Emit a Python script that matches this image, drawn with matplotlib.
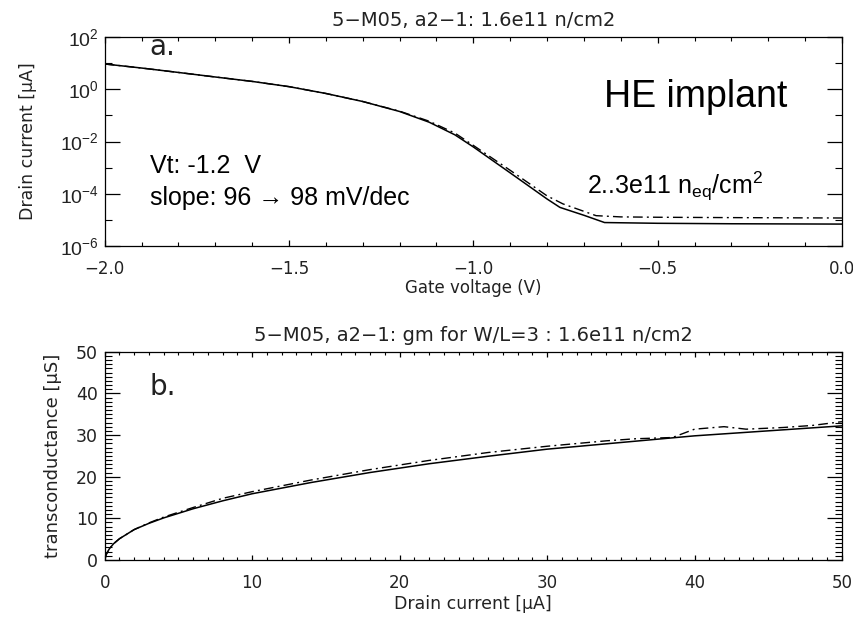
import numpy as np
import matplotlib
matplotlib.use("Agg")
import matplotlib.pyplot as plt
from matplotlib.ticker import FixedLocator, FixedFormatter, MultipleLocator, NullFormatter

plt.rcParams['font.family'] = ['DejaVu Sans']
plt.rcParams['mathtext.fontset'] = 'custom'
plt.rcParams['mathtext.rm'] = 'Liberation Sans'
plt.rcParams['mathtext.it'] = 'Liberation Sans:italic'

# panel a: Id(Vg), before (solid) and after irradiation (dash-dot)
vg_a = [-2.0, -1.9, -1.8, -1.7, -1.6, -1.5, -1.4, -1.3, -1.2, -1.12, -1.05,
        -1.0, -0.9, -0.8, -0.765, -0.7, -0.644, -0.5, -0.3, 0.0]
id_pre = [9.3, 6.5, 4.4, 2.95, 2.0, 1.26, 0.69, 0.34, 0.141, 0.055, 0.018,
          0.0062, 6.3e-4, 6.3e-5, 3.0e-5, 1.5e-5, 7.9e-6, 7.4e-6, 7.1e-6, 6.9e-6]
vg_b = [-2.0, -1.9, -1.8, -1.7, -1.6, -1.5, -1.4, -1.3, -1.2, -1.12, -1.05,
        -1.0, -0.9, -0.8, -0.757, -0.667, -0.6, -0.5, -0.3, 0.0]
id_post = [9.3, 6.5, 4.4, 2.95, 2.0, 1.26, 0.69, 0.34, 0.145, 0.06, 0.021,
           0.0071, 7.9e-4, 8.3e-5, 4.1e-5, 1.45e-5, 1.3e-5, 1.26e-5, 1.22e-5, 1.18e-5]

# panel b: gm(Id)
id_gm1 = [0, 0.1, 0.3, 0.6, 1, 2, 3, 4, 6, 8, 10, 14, 18, 22, 26, 30, 35, 40, 45, 50]
gm_pre = [0, 1.3, 2.6, 3.9, 5.1, 7.3, 8.8, 10.1, 12.3, 14.2, 15.9, 18.6, 21.0,
          23.1, 24.9, 26.6, 28.2, 29.8, 31.0, 32.2]
id_gm2 = [0, 0.1, 0.3, 0.6, 1, 2, 3, 4, 6, 8, 10, 14, 18, 22, 26, 30, 34, 36,
          38.5, 40, 42, 43.5, 46, 48, 50]
gm_post = [0, 1.3, 2.6, 3.9, 5.1, 7.3, 8.9, 10.3, 12.6, 14.8, 16.4, 19.2, 21.7,
           23.9, 25.8, 27.3, 28.6, 29.1, 29.4, 31.4, 32.0, 31.4, 31.8, 32.3, 33.2]

log_ticks = [1e-6, 1e-4, 1e-2, 1e0, 1e2]
log_labels = [r'$10^{-6}$', r'$10^{-4}$', r'$10^{-2}$', r'$10^{0}$', r'$10^{2}$']
log_minor = [1e-5, 1e-3, 1e-1, 1e1]

txt = '#222222'
dashdot = (0, (7, 3, 1.4, 3))
arial = ['Liberation Sans', 'DejaVu Sans']

fig = plt.figure(figsize=(8.54, 6.17), dpi=100)
ax1 = fig.add_axes([0.1226, 0.6013, 0.8633, 0.3387])
ax2 = fig.add_axes([0.1226, 0.0924, 0.8633, 0.3376])

# ---- top panel
ax1.plot(vg_a, id_pre, color='black', lw=1.1)
ax1.plot(vg_b, id_post, color='black', lw=1.0, linestyle=dashdot)
ax1.set_yscale('log')
ax1.set_xlim(-2.0, 0.0)
ax1.set_ylim(1e-6, 1e2)
ax1.xaxis.set_major_locator(MultipleLocator(0.5))
ax1.xaxis.set_minor_locator(MultipleLocator(0.1))
ax1.yaxis.set_major_locator(FixedLocator(log_ticks))
ax1.yaxis.set_major_formatter(FixedFormatter(log_labels))
ax1.yaxis.set_minor_locator(FixedLocator(log_minor))
ax1.yaxis.set_minor_formatter(NullFormatter())
ax1.tick_params(axis='x', which='major', direction='in', length=4.3, width=0.9,
                top=True, labelsize=12, pad=10, labelcolor=txt)
ax1.tick_params(axis='x', which='minor', direction='in', length=3, width=0.8, top=True)
ax1.tick_params(axis='y', which='major', direction='in', length=10.8, width=0.9,
                right=True, labelsize=14, pad=4, labelcolor=txt)
ax1.tick_params(axis='y', which='minor', direction='in', length=5, width=0.8, right=True)
ax1.set_title('5−M05, a2−1: 1.6e11 n/cm2', fontsize=14, color=txt, pad=8)
ax1.set_xlabel('Gate voltage (V)', fontsize=12, color=txt)
ax1.set_ylabel('Drain current [μA]', fontsize=12.5, color=txt)
ax1.xaxis.set_label_coords(0.5, -0.16)
ax1.yaxis.set_label_coords(-0.092, 0.5)

ax1.text(0.06, 0.914, 'a.', transform=ax1.transAxes, fontsize=20, color=txt,
         va='baseline')
ax1.text(0.677, 0.667, 'HE implant', transform=ax1.transAxes, fontsize=27,
         family=arial, va='baseline')
ax1.text(0.0614, 0.351, 'Vt: -1.2  V', transform=ax1.transAxes, fontsize=18,
         family=arial, va='baseline')
ax1.text(0.0614, 0.196, 'slope: 96 → 98 mV/dec', transform=ax1.transAxes,
         fontsize=18, family=arial, va='baseline')
ax1.text(0.654, 0.249, r'2..3e11 n$_{\rm eq}$/cm$^{2}$', transform=ax1.transAxes,
         fontsize=18, family=arial, va='baseline')

# ---- bottom panel
ax2.plot(id_gm1, gm_pre, color='black', lw=1.1)
ax2.plot(id_gm2, gm_post, color='black', lw=1.0, linestyle=dashdot)
ax2.set_xlim(0, 50)
ax2.set_ylim(0, 50)
ax2.xaxis.set_major_locator(MultipleLocator(10))
ax2.xaxis.set_minor_locator(MultipleLocator(1))
ax2.yaxis.set_major_locator(MultipleLocator(10))
ax2.yaxis.set_minor_locator(MultipleLocator(1))
ax2.tick_params(axis='x', which='major', direction='in', length=3.6, width=0.9,
                top=True, labelsize=12, pad=10, labelcolor=txt)
ax2.tick_params(axis='x', which='minor', direction='in', length=2.2, width=0.8, top=True)
ax2.tick_params(axis='y', which='major', direction='in', length=10.8, width=0.9,
                right=True, labelsize=12.5, pad=5, labelcolor=txt)
ax2.tick_params(axis='y', which='minor', direction='in', length=5, width=0.8, right=True)
ax2.set_title('5−M05, a2−1: gm for W/L=3 : 1.6e11 n/cm2', fontsize=14,
              color=txt, pad=8)
ax2.set_xlabel('Drain current [μA]', fontsize=12.5, color=txt)
ax2.set_ylabel('transconductance [μS]', fontsize=13, color=txt)
ax2.xaxis.set_label_coords(0.5, -0.168)
ax2.yaxis.set_label_coords(-0.058, 0.5)
ax2.text(0.0614, 0.792, 'b.', transform=ax2.transAxes, fontsize=20, color=txt,
         va='baseline')

for ax in (ax1, ax2):
    for s in ax.spines.values():
        s.set_linewidth(0.9)

fig.savefig('out.png', dpi=100)
